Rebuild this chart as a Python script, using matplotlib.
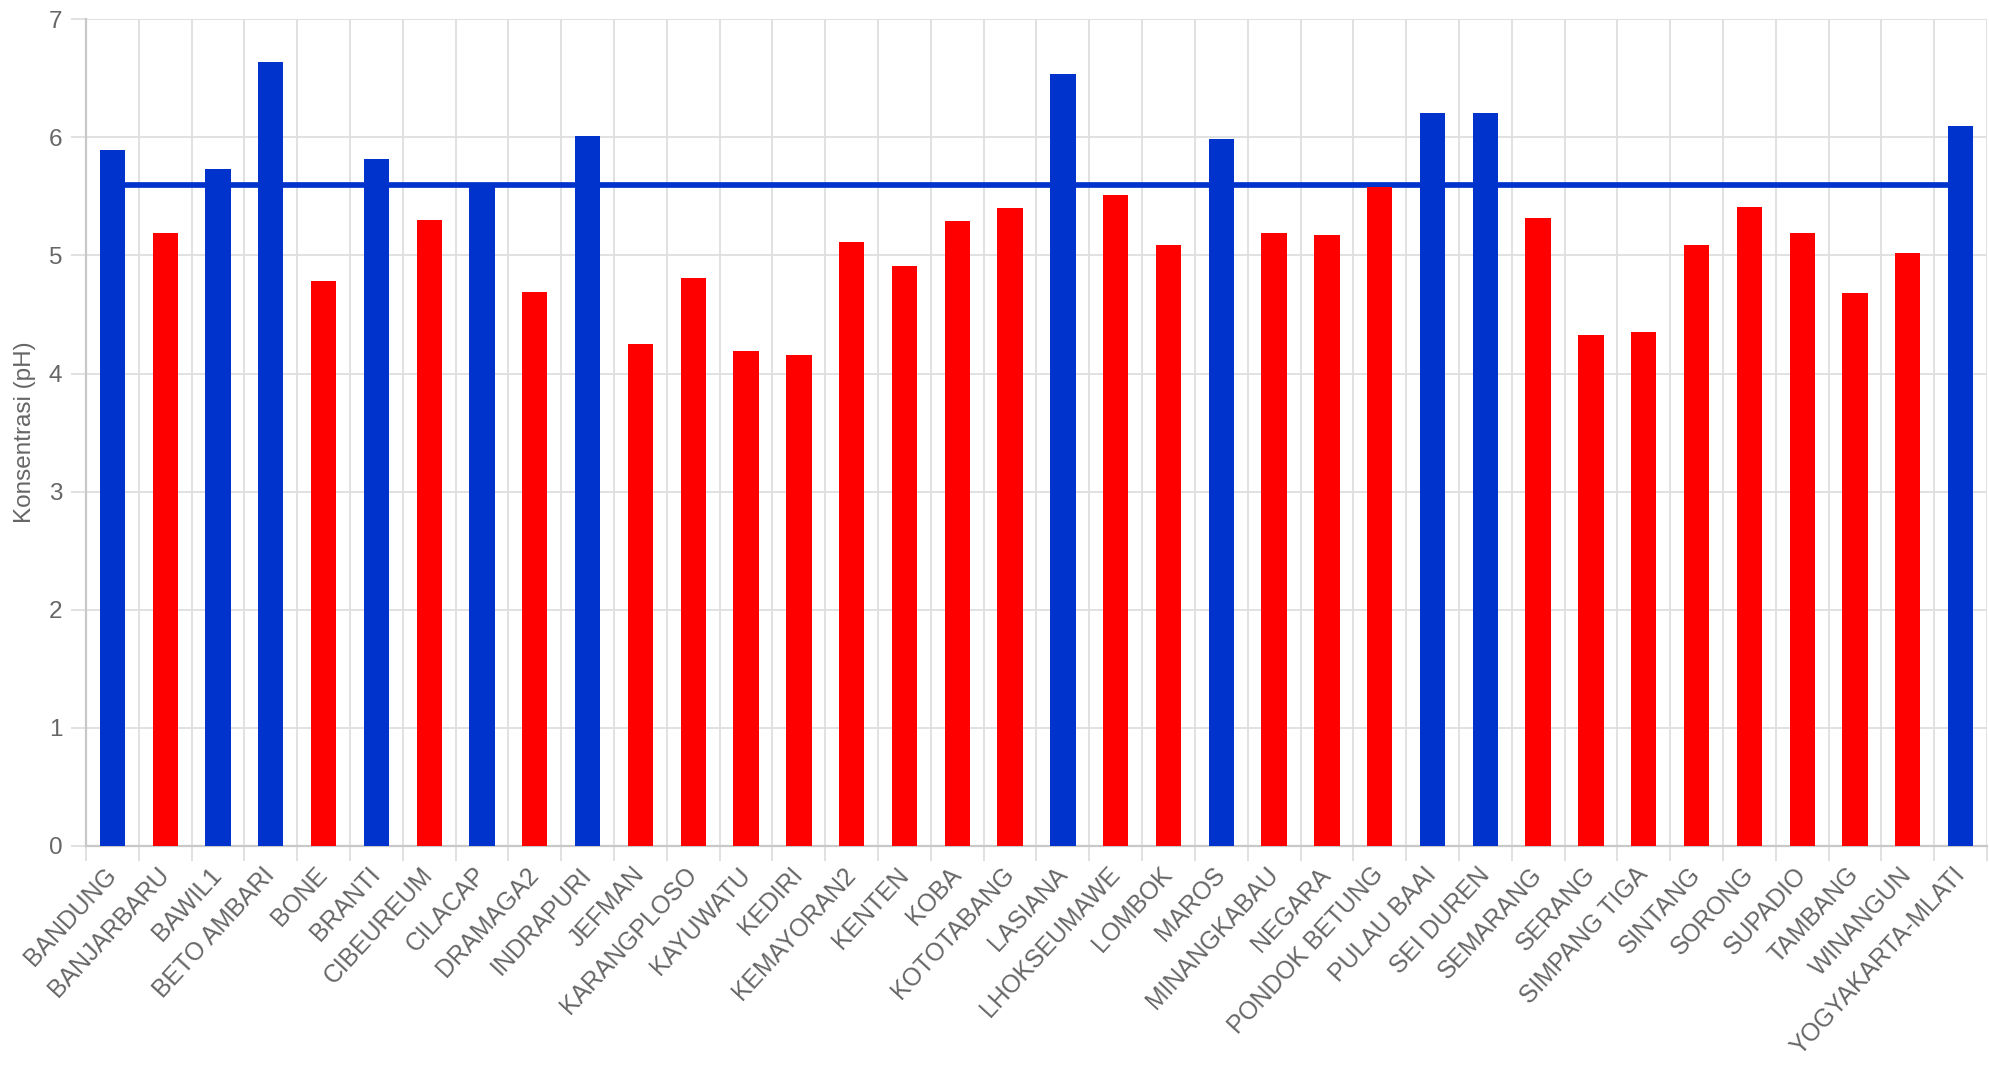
import matplotlib
matplotlib.use("Agg")
import matplotlib.pyplot as plt
import numpy as np

stations = ["BANDUNG", "BANJARBARU", "BAWIL1", "BETO AMBARI", "BONE", "BRANTI",
            "CIBEUREUM", "CILACAP", "DRAMAGA2", "INDRAPURI", "JEFMAN", "KARANGPLOSO",
            "KAYUWATU", "KEDIRI", "KEMAYORAN2", "KENTEN", "KOBA", "KOTOTABANG",
            "LASIANA", "LHOKSEUMAWE", "LOMBOK", "MAROS", "MINANGKABAU", "NEGARA",
            "PONDOK BETUNG", "PULAU BAAI", "SEI DUREN", "SEMARANG", "SERANG",
            "SIMPANG TIGA", "SINTANG", "SORONG", "SUPADIO", "TAMBANG", "WINANGUN",
            "YOGYAKARTA-MLATI"]
ph_values = [5.89, 5.19, 5.73, 6.64, 4.78, 5.82,
             5.30, 5.60, 4.69, 6.01, 4.25, 4.81,
             4.19, 4.16, 5.11, 4.91, 5.29, 5.40,
             6.54, 5.51, 5.09, 5.99, 5.19, 5.17,
             5.58, 6.21, 6.21, 5.32, 4.33,
             4.35, 5.09, 5.41, 5.19, 4.68, 5.02,
             6.10]
threshold = 5.6
y_ticks = [0, 1, 2, 3, 4, 5, 6, 7]

BLUE = "#0033cc"
RED = "#ff0000"
TXT = "#666666"
GRID = "#dedede"

plt.rcParams["font.family"] = ["Liberation Sans", "DejaVu Sans"]

fig = plt.figure(figsize=(19.9, 10.72), dpi=100)
ax = fig.add_axes([0.0432, 0.211, 0.9553, 0.771])

x = np.arange(len(stations))
colors = [BLUE if v >= threshold else RED for v in ph_values]

ax.plot([x[0], x[-1]], [threshold, threshold], color=BLUE, lw=4.1, zorder=2,
        solid_capstyle="butt")
ax.bar(x, ph_values, width=0.48, color=colors, zorder=3)

ax.set_xlim(-0.5, len(stations) - 0.5)
ax.set_ylim(0, 7)

ax.set_yticks(y_ticks)
ax.set_yticklabels([str(t) for t in y_ticks])
ax.set_xticks(x)
ax.set_xticklabels(stations, rotation=47.5, ha="right", va="center",
                   rotation_mode="anchor")
ax.set_xticks(np.arange(len(stations) + 1) - 0.5, minor=True)

ax.tick_params(axis="x", which="major", length=0, pad=18, labelsize=17.8, labelcolor=TXT)
ax.tick_params(axis="x", which="minor", length=11, width=1.3, color=GRID)
ax.tick_params(axis="y", which="major", length=11, width=1.3, color=GRID,
               pad=6, labelsize=17.5, labelcolor=TXT)

ax.grid(axis="y", which="major", color=GRID, lw=1.3, zorder=0)
ax.grid(axis="x", which="minor", color=GRID, lw=1.3, zorder=0)
ax.set_axisbelow(True)

for s in ["top", "right"]:
    ax.spines[s].set_visible(False)
for s in ["left", "bottom"]:
    ax.spines[s].set_color("#c8c8c8")
    ax.spines[s].set_linewidth(1.6)

ax.set_ylabel("Konsentrasi (pH)", fontsize=17.5, color=TXT, labelpad=9)

fig.savefig("out.png", dpi=100, facecolor="white")
